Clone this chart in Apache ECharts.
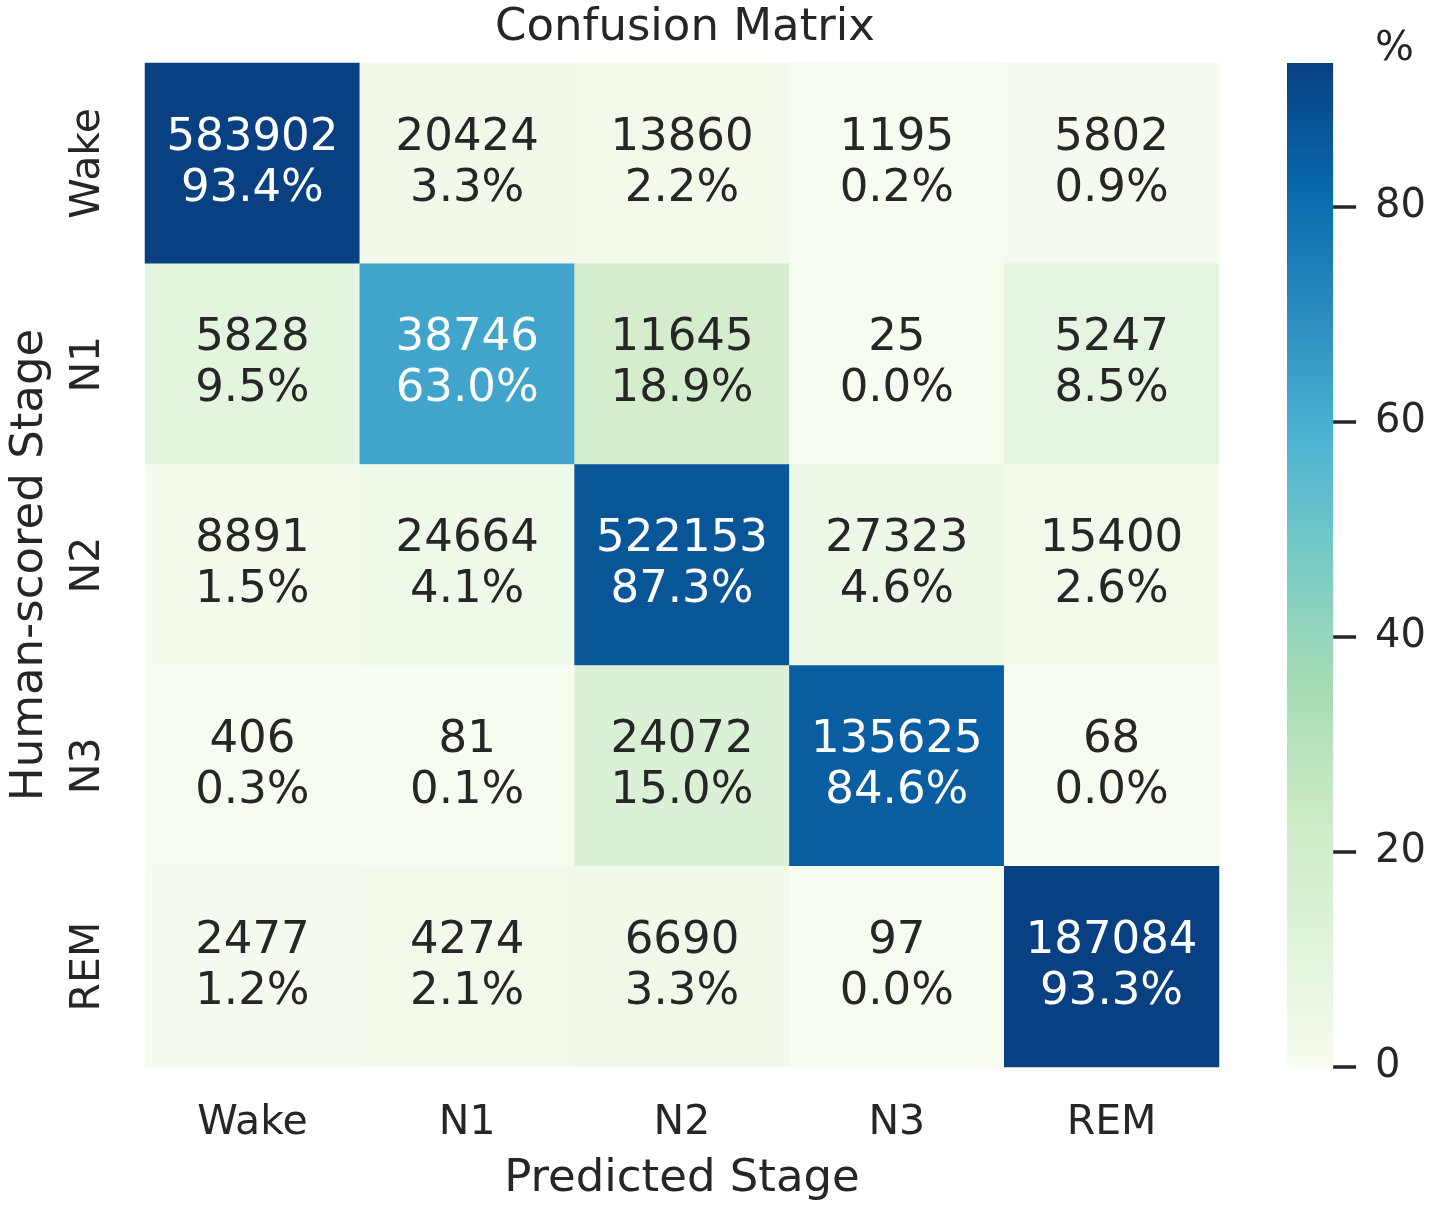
<!DOCTYPE html>
<html>
<head>
<meta charset="utf-8">
<script src="https://cdn.jsdelivr.net/npm/echarts@6/dist/echarts.min.js"></script>
<style>
  html, body { margin: 0; padding: 0; background: #fff; }
  #chart { width: 1429px; height: 1208px; }
</style>
</head>
<body>
<div id="chart"></div>
<script>
const stages = ['Wake', 'N1', 'N2', 'N3', 'REM']

// rows = human-scored stage, columns = predicted stage
const counts = [
  [583902, 20424, 13860, 1195, 5802],
  [5828, 38746, 11645, 25, 5247],
  [8891, 24664, 522153, 27323, 15400],
  [406, 81, 24072, 135625, 68],
  [2477, 4274, 6690, 97, 187084]
]
const percents = [
  [93.4, 3.3, 2.2, 0.2, 0.9],
  [9.5, 63.0, 18.9, 0.0, 8.5],
  [1.5, 4.1, 87.3, 4.6, 2.6],
  [0.3, 0.1, 15.0, 84.6, 0.0],
  [1.2, 2.1, 3.3, 0.0, 93.3]
]
const colorTicks = [0, 20, 40, 60, 80]

const gnbu = ['#f7fcf0', '#e0f3db', '#ccebc5', '#a8ddb5', '#7bccc4',
  '#4eb3d3', '#2b8cbe', '#0868ac', '#084081']
const textDark = '#262626'
const font = 'DejaVu Sans'
const pMax = 93.4

const cells = []
percents.forEach((row, r) => {
  row.forEach((p, c) => {
    cells.push({
      value: [c, r, p, counts[r][c]],
      label: { color: p > 50 ? '#ffffff' : textDark }
    })
  })
})

// colorbar drawn as one full-height bar with the same gradient as the visual map
const barGradient = new echarts.graphic.LinearGradient(0, 1, 0, 0,
  gnbu.map((c, i) => ({ offset: i / (gnbu.length - 1), color: c })))

const chart = echarts.init(document.getElementById('chart'))

chart.setOption({
  backgroundColor: '#ffffff',
  animation: false,
  textStyle: { fontFamily: font },
  title: [
    {
      text: 'Confusion Matrix',
      left: 680, top: 1,
      textAlign: 'center',
      textStyle: { fontFamily: font, fontSize: 45, fontWeight: 'normal', color: textDark }
    },
    {
      text: '%',
      left: 1370, top: 24,
      textStyle: { fontFamily: font, fontSize: 41, fontWeight: 'normal', color: textDark }
    }
  ],
  grid: [
    { left: 142, top: 63, width: 1077, height: 1004 },
    { left: 1287, top: 63, width: 50, height: 1004 }
  ],
  xAxis: [
    {
      type: 'category', gridIndex: 0, data: stages,
      name: 'Predicted Stage', nameLocation: 'middle', nameGap: 90,
      nameTextStyle: { fontFamily: font, fontSize: 45, color: textDark },
      axisLine: { show: false }, axisTick: { show: false }, splitLine: { show: false },
      axisLabel: { fontFamily: font, fontSize: 41, color: textDark, margin: 36 }
    },
    {
      type: 'category', gridIndex: 1, data: ['%'], show: false
    }
  ],
  yAxis: [
    {
      type: 'category', gridIndex: 0, data: stages, inverse: true,
      name: 'Human-scored Stage', nameLocation: 'middle', nameGap: 92,
      nameTextStyle: { fontFamily: font, fontSize: 45, color: textDark },
      axisLine: { show: false }, axisTick: { show: false }, splitLine: { show: false },
      axisLabel: { fontFamily: font, fontSize: 41, color: textDark, rotate: 90, margin: 36 }
    },
    {
      type: 'value', gridIndex: 1, position: 'right', min: 0, max: pMax,
      axisLine: { show: false },
      axisTick: {
        show: true, inside: false, length: 23,
        lineStyle: { color: textDark, width: 3.5 },
        customValues: colorTicks
      },
      splitLine: { show: false },
      axisLabel: {
        fontFamily: font, fontSize: 40, color: textDark, margin: 42,
        customValues: colorTicks
      }
    }
  ],
  visualMap: {
    type: 'continuous',
    show: false,
    seriesIndex: 0,
    dimension: 2,
    min: 0, max: pMax,
    inRange: { color: gnbu }
  },
  series: [
    {
      type: 'heatmap',
      xAxisIndex: 0, yAxisIndex: 0,
      data: cells,
      label: {
        show: true,
        fontFamily: font,
        fontSize: 45,
        lineHeight: 51,
        formatter: p => p.value[3] + '\n' + p.value[2].toFixed(1) + '%'
      },
      itemStyle: { borderWidth: 0 }
    },
    {
      type: 'bar',
      xAxisIndex: 1, yAxisIndex: 1,
      data: [pMax],
      barWidth: '100%',
      silent: true,
      itemStyle: { color: barGradient }
    }
  ]
})

window.addEventListener('resize', () => chart.resize())
</script>
</body>
</html>
